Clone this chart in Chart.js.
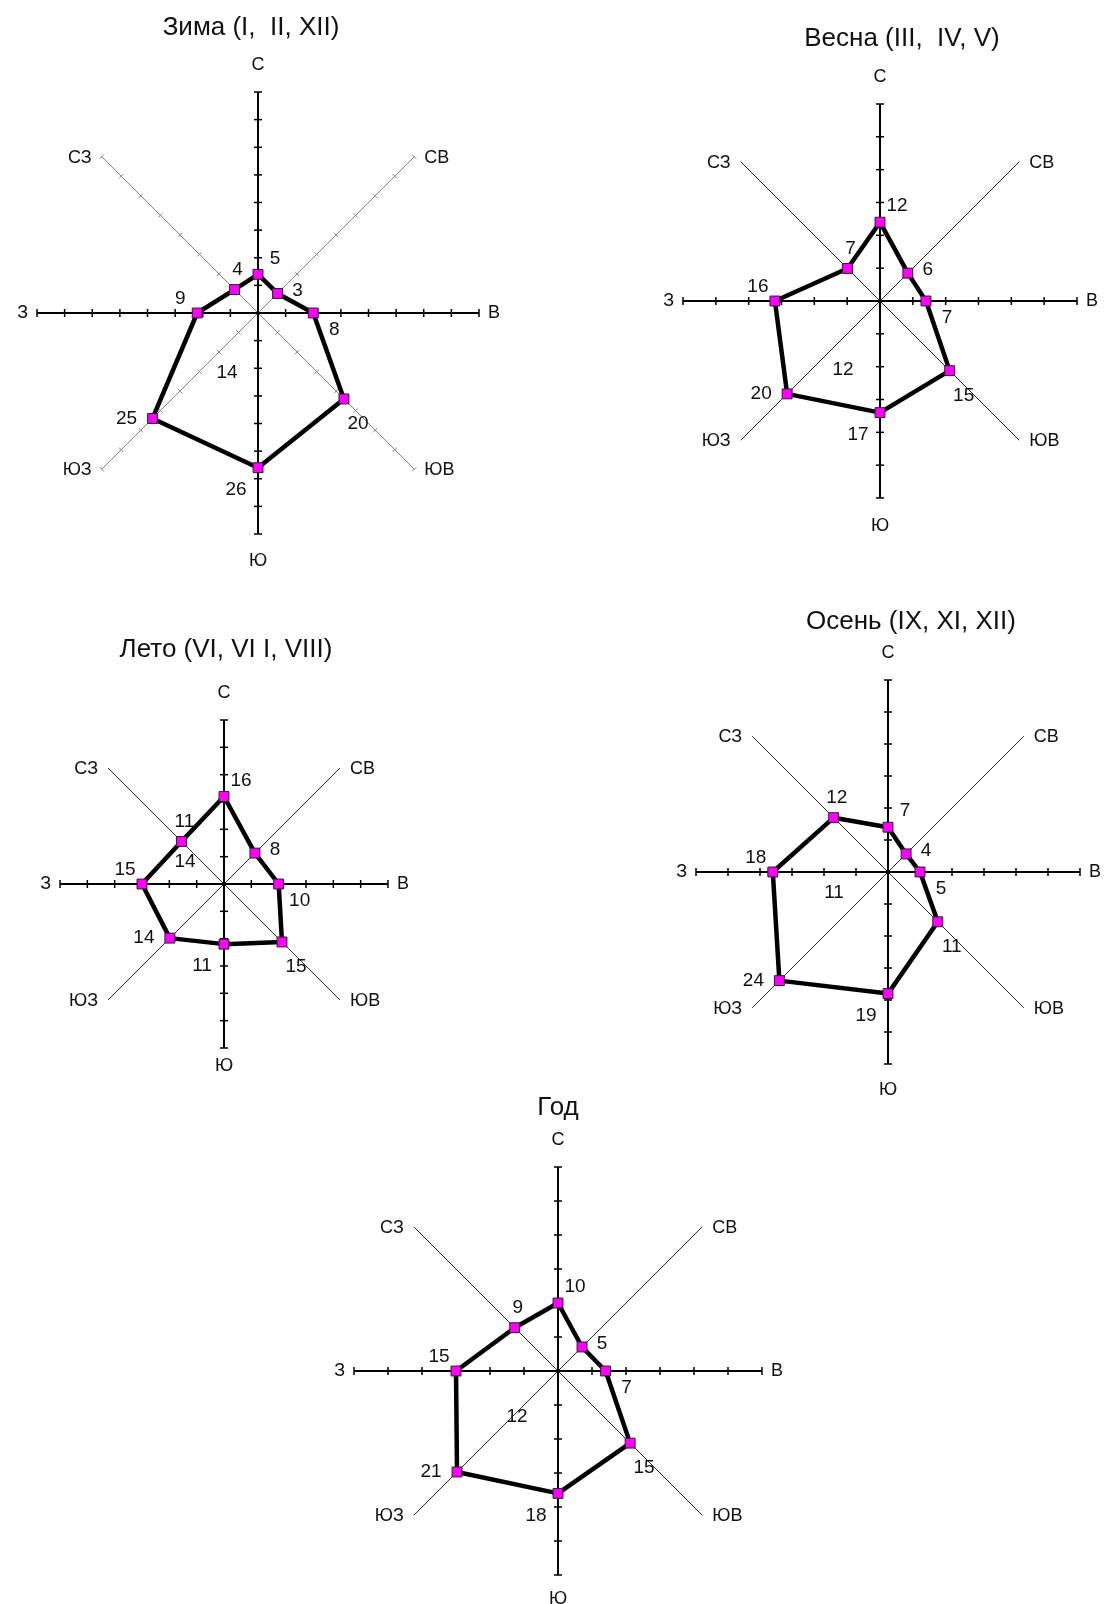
<!DOCTYPE html>
<html lang="ru">
<head>
<meta charset="utf-8">
<title>Розы ветров</title>
<script src="https://cdn.jsdelivr.net/npm/chart.js@4.4.1/dist/chart.umd.min.js"></script>
<style>
  html, body { margin: 0; padding: 0; background: #fff; }
  body { width: 1104px; height: 1604px; position: relative; overflow: hidden; }
  canvas { position: absolute; }
</style>
</head>
<body>
<script>
// румбы, по часовой стрелке от севера
var directions = ['С', 'СВ', 'В', 'ЮВ', 'Ю', 'ЮЗ', 'З', 'СЗ'];

// повторяемость ветра, %
var winter = [5, 3, 8, 20, 26, 25, 9, 4];
var spring = [12, 6, 7, 15, 17, 20, 16, 7];
var summer = [16, 8, 10, 15, 11, 14, 15, 11];
var autumn = [7, 4, 5, 11, 19, 24, 18, 12];
var year = [10, 5, 7, 15, 18, 21, 15, 9];

// штиль, %
var calm = [14, 12, 14, 11, 12];

var titles = ['Зима (I,  II, XII)', 'Весна (III,  IV, V)', 'Лето (VI, VI I, VIII)', 'Осень (IX, XI, XII)', 'Год'];

var scaleMin = [-2, 0, 0, 0, 0];
var scaleMax = [38, 30, 30, 30, 30];
var tickStep = 5;

var series = [winter, spring, summer, autumn, year];

// где стоит каждая роза на листе
var layout = [
    {cx: 258, cy: 313, r: 221, title: [-7, -285], calm: [-31, 60], southGap: 27, diagTicks: true, diagColor: '#808080'},
    {cx: 880, cy: 301, r: 197, title: [22, -262], calm: [-37, 69], southGap: 28},
    {cx: 224, cy: 884, r: 164, title: [2, -234], calm: [-39, -22], southGap: 18},
    {cx: 888, cy: 872, r: 192, title: [23, -250], calm: [-54, 21], southGap: 26},
    {cx: 558, cy: 1371, r: 204, title: [0, -263], calm: [-41, 46], southGap: 24}
];

// сдвиг подписи значения от точки, по румбам
var valueOffset = [[17, -16], [20, -3], [21, 17], [14, 25], [-22, 22], [-26, 0], [-17, -14], [3, -20]];

var FONT = '"Liberation Sans", Arial, sans-serif';
var padX = 60, padT = 100, padB = 50;

var roseDecor = {
    id: 'roseDecor',
    beforeDatasetsDraw: function (chart, args, opts) {
        var s = chart.scales.r, ctx = chart.ctx;
        ctx.save();
        for (var i = 0; i < directions.length; i++) {
            var main = i % 2 === 0;
            if (!main && !opts.diagTicks) continue;
            var a = s.getIndexAngle(i) - Math.PI / 2;
            var nx = -Math.sin(a), ny = Math.cos(a);
            var len = main ? 4 : 3;
            ctx.strokeStyle = main ? '#000' : opts.diagColor;
            ctx.lineWidth = main ? 1.5 : 1;
            for (var v = s.min + tickStep; v <= s.max + 0.001; v += tickStep) {
                var p = s.getPointPositionForValue(i, v);
                ctx.beginPath();
                ctx.moveTo(p.x - nx * len, p.y - ny * len);
                ctx.lineTo(p.x + nx * len, p.y + ny * len);
                ctx.stroke();
            }
        }
        ctx.restore();
    },
    afterDraw: function (chart, args, opts) {
        var s = chart.scales.r, ctx = chart.ctx;
        var data = chart.data.datasets[0].data;
        var meta = chart.getDatasetMeta(0);
        ctx.save();
        ctx.fillStyle = '#111';
        ctx.textBaseline = 'middle';

        // заголовок
        ctx.font = '26px ' + FONT;
        ctx.textAlign = 'center';
        ctx.fillText(opts.title, s.xCenter + opts.titlePos[0], s.yCenter + opts.titlePos[1]);

        // румбы
        ctx.font = '18px ' + FONT;
        for (var i = 0; i < directions.length; i++) {
            var end = s.getPointPosition(i, s.drawingArea);
            if (i === 0 || i === 4) {
                var q = s.getPointPosition(i, s.drawingArea + (i === 0 ? 27 : opts.southGap));
                ctx.textAlign = 'center';
                ctx.fillText(directions[i], q.x, q.y);
            } else {
                var right = i < 4;
                ctx.textAlign = right ? 'left' : 'right';
                var gap = (i === 2 || i === 6) ? 9 : 10;
                ctx.fillText(directions[i], end.x + (right ? gap : -gap), end.y + (i === 2 || i === 6 ? 0 : 1));
            }
        }

        // значения у точек
        ctx.font = '19px ' + FONT;
        ctx.textAlign = 'center';
        meta.data.forEach(function (pt, j) {
            ctx.fillText(String(data[j]), pt.x + valueOffset[j][0], pt.y + valueOffset[j][1]);
        });

        // штиль
        ctx.fillText(String(opts.calm), s.xCenter + opts.calmPos[0], s.yCenter + opts.calmPos[1]);
        ctx.restore();
    }
};

series.forEach(function (values, k) {
    var L = layout[k];
    var canvas = document.createElement('canvas');
    canvas.width = 2 * L.r + 2 * padX;
    canvas.height = 2 * L.r + padT + padB;
    document.body.appendChild(canvas);

    var chart = new Chart(canvas, {
        type: 'radar',
        data: {
            labels: directions,
            datasets: [{
                label: titles[k],
                data: values,
                fill: false,
                backgroundColor: 'rgba(0,0,0,0)',
                borderColor: '#000',
                borderWidth: 4.5,
                borderJoinStyle: 'round',
                pointStyle: 'rect',
                pointRadius: 7,
                pointBackgroundColor: '#ff00ff',
                pointBorderColor: '#222',
                pointBorderWidth: 1
            }]
        },
        options: {
            responsive: false,
            animation: false,
            events: [],
            layout: {padding: {left: padX, right: padX, top: padT, bottom: padB}},
            scales: {
                r: {
                    min: scaleMin[k],
                    max: scaleMax[k],
                    grid: {display: false},
                    ticks: {display: false},
                    pointLabels: {display: false},
                    angleLines: {
                        display: true,
                        color: function (c) { return c.index % 2 ? (L.diagColor || '#2a2a2a') : '#000'; },
                        lineWidth: function (c) { return c.index % 2 ? 1 : 2; }
                    }
                }
            },
            plugins: {
                legend: {display: false},
                tooltip: {enabled: false},
                roseDecor: {
                    title: titles[k],
                    titlePos: L.title,
                    calm: calm[k],
                    calmPos: L.calm,
                    southGap: L.southGap,
                    diagTicks: !!L.diagTicks,
                    diagColor: L.diagColor || '#2a2a2a'
                }
            }
        },
        plugins: [roseDecor]
    });

    var s = chart.scales.r;
    canvas.style.left = (L.cx - s.xCenter) + 'px';
    canvas.style.top = (L.cy - s.yCenter) + 'px';
});
</script>
</body>
</html>
